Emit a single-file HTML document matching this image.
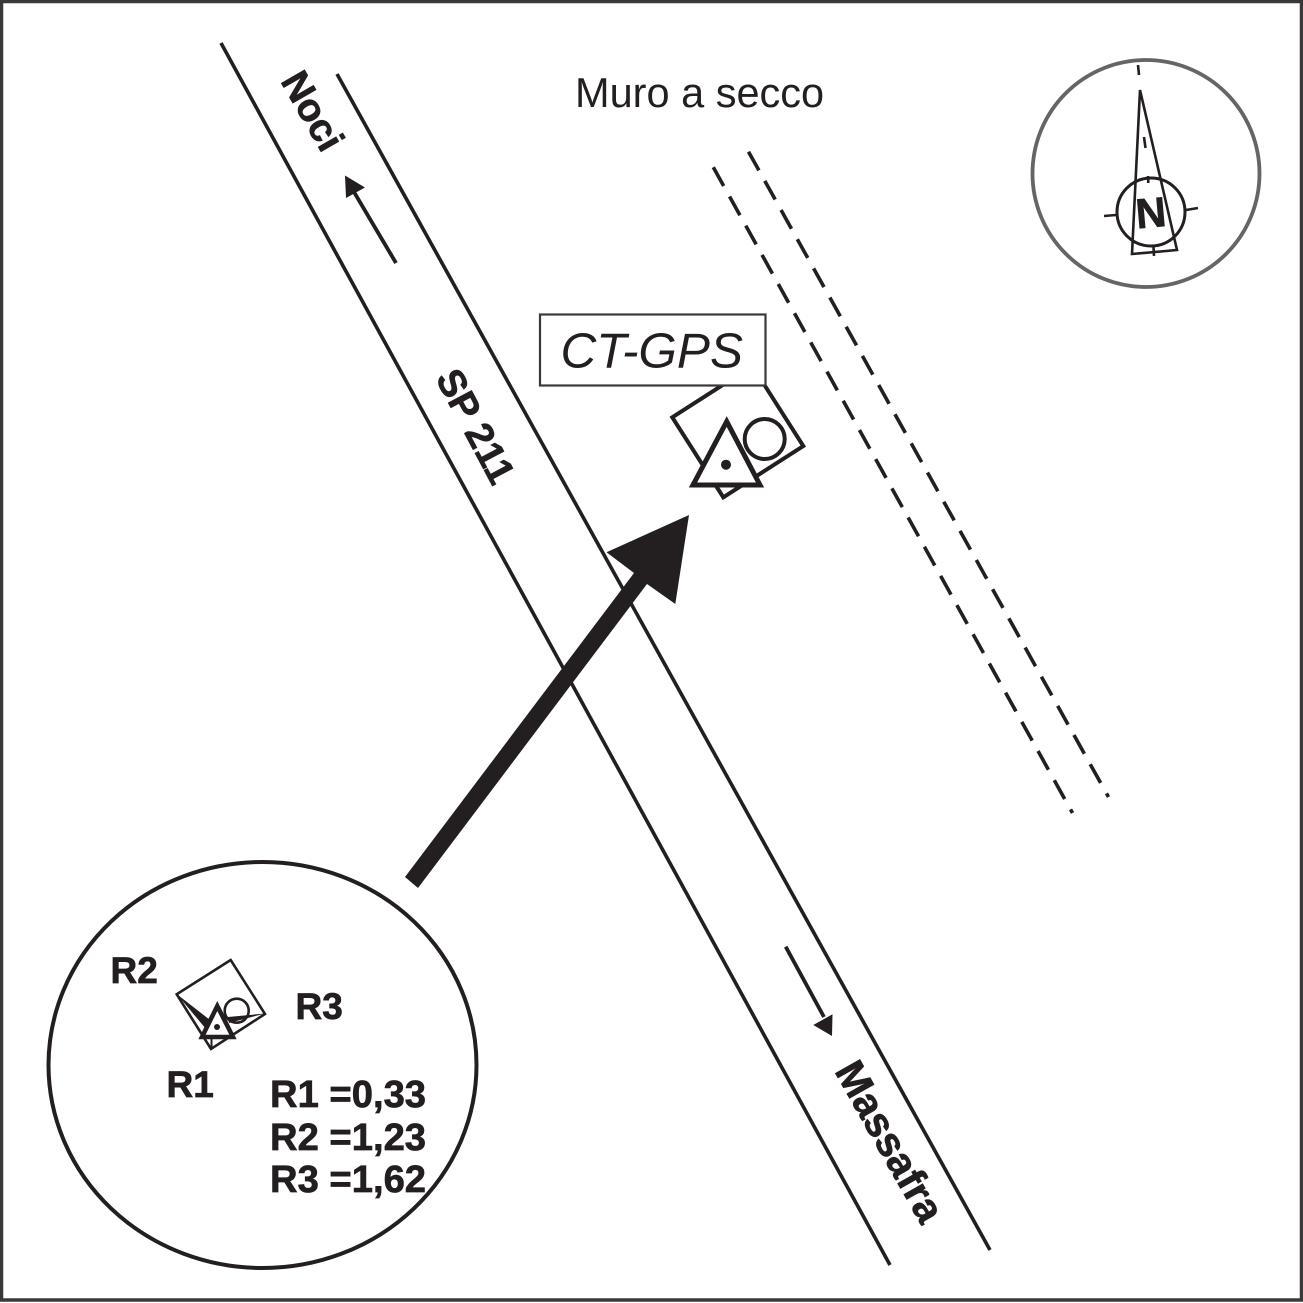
<!DOCTYPE html>
<html>
<head>
<meta charset="utf-8">
<style>
html,body{margin:0;padding:0;background:#fff}
svg{display:block}
text{font-family:"Liberation Sans",sans-serif;fill:#231f20}
.b{font-weight:bold;stroke:#231f20;stroke-width:.7}
</style>
</head>
<body>
<svg width="1303" height="1303" viewBox="0 0 1303 1303" xmlns="http://www.w3.org/2000/svg">
<rect width="1303" height="1303" fill="#fff"/>
<rect x="1.5" y="1.5" width="1300" height="1298.5" fill="none" stroke="#3a3839" stroke-width="3.5"/>

<!-- road -->
<g stroke="#231f20" stroke-width="3.6" fill="none">
<line x1="221" y1="43" x2="890" y2="1265"/>
<line x1="337" y1="74" x2="990" y2="1250"/>
</g>
<!-- dashed wall -->
<g stroke="#231f20" stroke-width="3.6" fill="none" stroke-dasharray="21.4 12">
<line x1="713.3" y1="167.3" x2="1072.5" y2="813"/>
<line x1="748.5" y1="151.7" x2="1108.5" y2="797"/>
</g>

<!-- small arrows -->
<line x1="396" y1="263" x2="354" y2="192" stroke="#231f20" stroke-width="3.8"/>
<polygon points="345,175.5 365,187.5 346,198" fill="#231f20"/>
<line x1="785.7" y1="946.7" x2="824" y2="1017" stroke="#231f20" stroke-width="3.8"/>
<polygon points="832,1036 832.5,1014.3 813.3,1025" fill="#231f20"/>

<!-- big arrow -->
<polygon points="689,515 675.3,604 647,584 418,888 405,877 634,573 606.5,552.3" fill="#231f20"/>

<!-- CT-GPS marker -->
<polygon points="672.3,417.3 752.3,366 803.3,446 723.3,497.3" fill="#fff" stroke="#231f20" stroke-width="4"/>
<rect x="540" y="314.5" width="225.5" height="71" fill="#fff" stroke="#3a3839" stroke-width="2.2"/>
<circle cx="764.7" cy="439" r="20" fill="#fff" stroke="#231f20" stroke-width="4"/>
<polygon points="726.7,421.5 693,485 760,485" fill="#fff" stroke="#231f20" stroke-width="5"/>
<circle cx="726" cy="464.7" r="5" fill="#231f20"/>
<text x="560.5" y="367.5" font-size="49.5" font-style="italic">CT-GPS</text>

<!-- compass -->
<circle cx="1146" cy="173.5" r="113.5" fill="#fff" stroke="#666465" stroke-width="3.8"/>
<polygon points="1140,90 1132,254 1177,250" fill="none" stroke="#231f20" stroke-width="2.6"/>
<circle cx="1151" cy="212" r="34" fill="none" stroke="#231f20" stroke-width="3"/>
<g stroke="#231f20" stroke-width="2.6">
<line x1="1138" y1="65" x2="1139" y2="75"/>
<line x1="1144" y1="137" x2="1145.5" y2="148"/>
<line x1="1148" y1="176" x2="1148.3" y2="183"/>
<line x1="1153.5" y1="247" x2="1154" y2="256"/>
<line x1="1104" y1="216" x2="1116" y2="215"/>
<line x1="1186" y1="210" x2="1198" y2="208"/>
</g>
<text class="b" font-size="42" transform="translate(1137,228.5) rotate(-5)">N</text>

<!-- big circle -->
<ellipse cx="262.5" cy="1065" rx="214" ry="203" fill="none" stroke="#231f20" stroke-width="4"/>

<!-- small marker -->
<polygon points="230.7,960 176.7,994.3 211,1049 265,1014" fill="#fff" stroke="#231f20" stroke-width="2.6"/>
<circle cx="236.7" cy="1010.7" r="12" fill="#fff" stroke="#231f20" stroke-width="2.6"/>
<polygon points="176.7,994 210,1020 206,1029" fill="#231f20"/>
<polygon points="265,1013.5 228,1017 229,1023" fill="#231f20"/>
<polygon points="217.3,1006 202,1037 233,1037" fill="#fff" stroke="#231f20" stroke-width="4.5"/>
<line x1="211.5" y1="1039" x2="211.5" y2="1047" stroke="#231f20" stroke-width="2"/>
<circle cx="217" cy="1027" r="3" fill="#231f20"/>

<!-- labels -->
<text x="575" y="107" font-size="41.5">Muro a secco</text>
<text class="b" font-size="39" transform="translate(280,81) rotate(60)">Noci</text>
<text class="b" font-size="38.5" transform="translate(435,378) rotate(62)">SP 211</text>
<text class="b" font-size="41" transform="translate(834,1071) rotate(60.5)">Massafra</text>
<text class="b" x="110.5" y="983" font-size="37">R2</text>
<text class="b" x="295.5" y="1019" font-size="37">R3</text>
<text class="b" x="166.5" y="1097" font-size="37">R1</text>
<text class="b" x="270" y="1107" font-size="38.2">R1 =0,33</text>
<text class="b" x="270" y="1150" font-size="38.2">R2 =1,23</text>
<text class="b" x="270" y="1192" font-size="38.2">R3 =1,62</text>
</svg>
</body>
</html>
